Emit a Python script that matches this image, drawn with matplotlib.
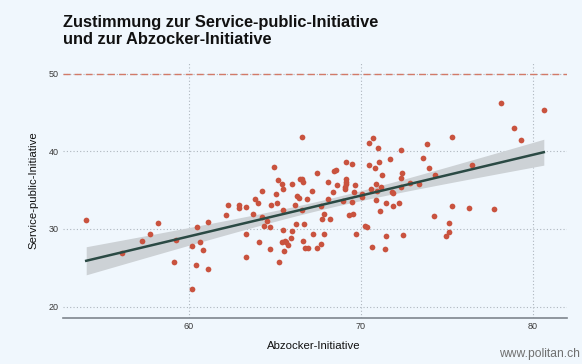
# LIBRARIES

import numpy as np
import matplotlib
matplotlib.use("Agg")
import matplotlib.pyplot as plt


# DATA  (Zustimmung in % pro Kanton/Bezirk)

ABZOCKER = [
    54.04, 56.13, 57.30, 57.75, 58.20, 59.26, 59.12, 60.18, 60.45, 60.67,
    60.82, 60.40, 61.09, 60.18, 61.10, 62.16, 62.27, 62.89, 62.90, 63.30,
    63.72, 63.86, 64.00, 64.28, 63.35, 63.30, 64.09, 64.28, 64.36, 64.55,
    64.74, 64.72, 64.80, 65.09, 65.15, 65.40, 65.50, 66.00, 66.17, 66.27,
    66.39, 66.87, 67.18, 65.46, 65.46, 66.58, 66.23, 66.68, 65.98, 65.42,
    65.58, 65.67, 65.79, 65.94, 65.52, 65.23, 66.66, 66.77, 66.91, 67.24,
    67.43, 66.58, 64.96, 65.17, 66.46, 66.56, 66.64, 67.47, 67.66, 67.74,
    67.86, 67.86, 68.09, 68.09, 68.19, 68.38, 68.42, 68.55, 68.61, 68.94,
    69.05, 69.11, 69.11, 69.13, 69.13, 69.10, 69.50, 69.63, 69.61, 69.50,
    69.32, 69.55, 69.69, 70.06, 70.06, 70.25, 70.35, 70.50, 70.68, 70.45,
    70.83, 71.06, 70.97, 70.60, 70.87, 70.91, 71.16, 70.87, 71.22, 71.10,
    71.45, 71.47, 71.68, 71.80, 71.87, 71.86, 72.19, 72.34, 72.34, 72.40,
    72.34, 72.43, 72.86, 73.35, 73.63, 73.83, 73.96, 74.33, 74.25, 75.29,
    75.28, 75.12, 75.14, 74.93, 76.26, 76.45, 77.73, 78.16, 78.87, 79.33,
    80.63, 71.43, 70.64, 67.70,
]

SERVICE = [
    31.1, 26.9, 28.4, 29.3, 30.8, 28.6, 25.8, 27.8, 30.3, 28.3,
    27.3, 25.3, 24.9, 22.3, 30.9, 31.8, 33.1, 33.1, 32.7, 32.8,
    31.9, 33.9, 33.4, 34.9, 29.4, 26.4, 28.3, 31.5, 30.4, 31.0,
    30.2, 27.4, 33.1, 34.5, 33.4, 35.8, 35.1, 35.8, 33.1, 34.2,
    34.0, 33.8, 34.9, 32.4, 29.9, 32.4, 30.7, 30.7, 29.8, 28.3,
    28.5, 28.3, 28.0, 28.8, 27.2, 25.8, 28.5, 27.6, 27.5, 29.4,
    27.6, 41.9, 38.0, 36.3, 36.5, 36.4, 36.1, 37.2, 33.0, 31.25,
    31.9, 29.3, 36.1, 33.8, 31.3, 34.8, 37.5, 37.6, 35.7, 33.6,
    35.2, 38.6, 36.4, 36.1, 35.8, 35.4, 38.4, 35.7, 34.7, 33.5,
    31.8, 31.9, 29.4, 34.5, 34.1, 30.4, 30.3, 41.1, 41.7, 38.3,
    37.9, 38.6, 40.4, 35.2, 35.85, 34.95, 35.4, 33.75, 37.0, 32.3,
    29.05, 33.3, 39.0, 34.8, 34.6, 33.0, 33.4, 40.2, 36.6, 37.2,
    35.4, 29.2, 35.9, 35.8, 39.1, 40.9, 37.9, 37.0, 31.7, 41.9,
    32.9, 30.8, 29.6, 29.05, 32.7, 38.2, 32.6, 46.2, 43.0, 41.5,
    45.3, 27.4, 27.7, 28.1,
]

X_TICKS = [60, 70, 80]
Y_TICKS = [20, 30, 40, 50]
REF_LINE = 50

TITLE_1 = "Zustimmung zur Service-public-Initiative"
TITLE_2 = "und zur Abzocker-Initiative"
X_LABEL = "Abzocker-Initiative"
Y_LABEL = "Service-public-Initiative"
SOURCE = "www.politan.ch"


# STYLE

BG = "#F0F7FD"
POINT = "#C9533F"
FIT = "#2B4A44"
BAND = "#CDD2D6"
GRID = "#AEB6BE"
TXT = "#111111"

plt.rcParams["font.family"] = ["Liberation Sans", "DejaVu Sans"]


# FIT  (lineare Regression mit 95%-Band)

def linear_fit(x, y, n_grid=100):
    x, y = np.asarray(x), np.asarray(y)
    n = len(x)
    b, a = np.polyfit(x, y, 1)
    resid = y - (a + b * x)
    s = np.sqrt(np.sum(resid ** 2) / (n - 2))
    xg = np.linspace(x.min(), x.max(), n_grid)
    se = s * np.sqrt(1 / n + (xg - x.mean()) ** 2 / np.sum((x - x.mean()) ** 2))
    yg = a + b * xg
    t = 1.977
    return xg, yg, yg - t * se, yg + t * se


# PLOT

fig = plt.figure(figsize=(5.82, 3.64), dpi=100)
fig.patch.set_facecolor(BG)
ax = fig.add_axes([0.1088, 0.1255, 0.8649, 0.7042])
ax.set_facecolor(BG)

ax.set_xlim(52.71, 81.96)
ax.set_ylim(18.5, 51.5)
ax.set_xticks(X_TICKS)
ax.set_yticks(Y_TICKS)

ax.grid(True, color=GRID, linestyle=(0, (1, 2)), linewidth=0.8)
ax.set_axisbelow(True)
for side in ["top", "left", "right"]:
    ax.spines[side].set_visible(False)
ax.spines["bottom"].set_color("#7E868E")
ax.spines["bottom"].set_linewidth(1.2)
ax.tick_params(length=0, labelsize=6.5, labelcolor="#3A3A3A")
ax.tick_params(axis="x", pad=3)
ax.tick_params(axis="y", pad=3.5)

ax.axhline(REF_LINE, color="#D27A68", linewidth=1.0, linestyle=(0, (5, 3)))

xg, yg, lo, hi = linear_fit(ABZOCKER, SERVICE)
ax.fill_between(xg, lo, hi, color=BAND, linewidth=0, zorder=2)
ax.scatter(ABZOCKER, SERVICE, s=17, color=POINT, linewidths=0, zorder=3)
ax.plot(xg, yg, color=FIT, linewidth=1.8, zorder=4)

fig.text(63.3 / 582, 1 - 27.3 / 364, TITLE_1, fontsize=11.8, fontweight="bold",
         color=TXT, ha="left", va="baseline")
fig.text(63.3 / 582, 1 - 44.3 / 364, TITLE_2, fontsize=11.8, fontweight="bold",
         color=TXT, ha="left", va="baseline")

fig.text(314 / 582, 1 - 346 / 364, X_LABEL, fontsize=8.2, color=TXT,
         ha="center", va="center")
fig.text(33 / 582, 1 - 190 / 364, Y_LABEL, fontsize=8.2, color=TXT,
         ha="center", va="center", rotation=90)
fig.text(580 / 582, 1 - 354 / 364, SOURCE, fontsize=8.7, color="#707070",
         ha="right", va="center")

fig.savefig("out.png", dpi=100, facecolor=fig.get_facecolor())
